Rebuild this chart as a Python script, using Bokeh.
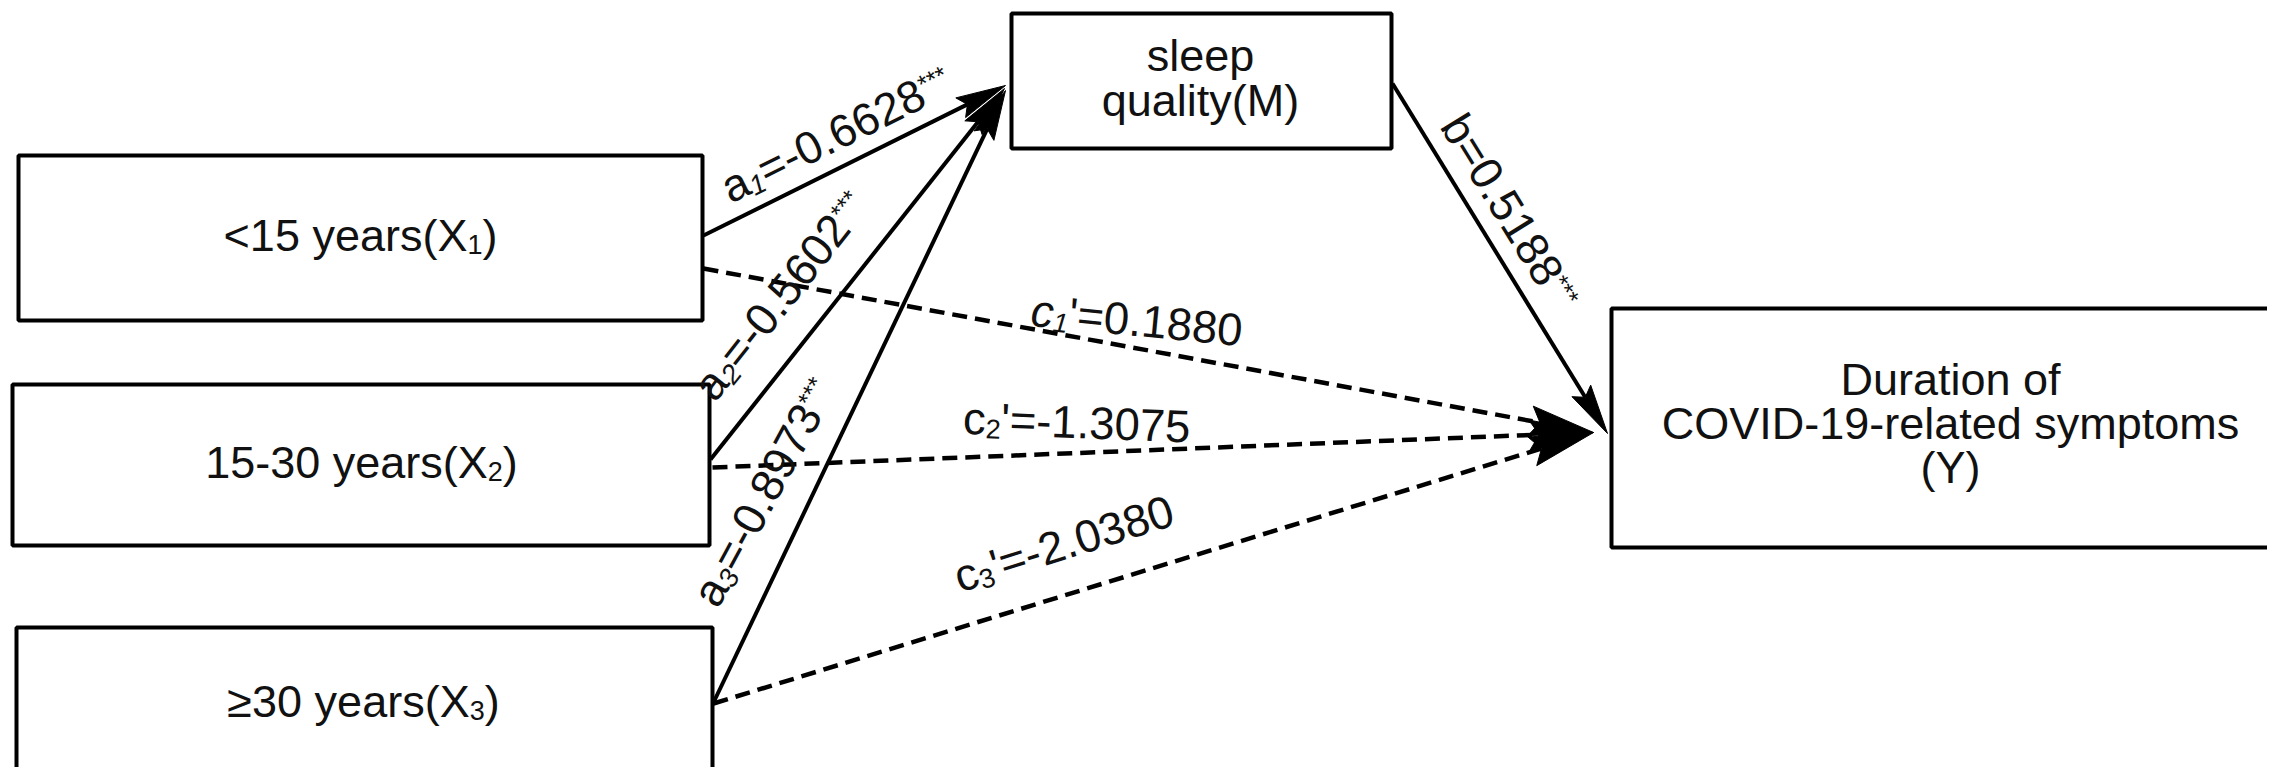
import math
from bokeh.plotting import figure
from bokeh.models import Range1d, ColumnDataSource
from bokeh.embed import file_html
from bokeh.resources import INLINE
from bokeh.core.properties import value

IMG_W, IMG_H = 2283, 783
FONT = "Liberation Sans"

# ---------------- data ----------------
x_names = ["<15 years(X", "15-30 years(X", "\u226530 years(X"]
x_subs = ["1", "2", "3"]
mediator_lines = ["sleep", "quality(M)"]
outcome_lines = ["Duration of", "COVID-19-related symptoms", "(Y)"]
a_coef = [-0.6628, -0.5602, -0.8973]
a_sig = ["***", "***", "***"]
b_coef = [0.5188]
b_sig = ["***"]
c_coef = [0.1880, -1.3075, -2.0380]
c_sig = ["", "", ""]

# ---------------- layout (screen px) ----------------
x_boxes = [(18, 702, 155, 320), (12, 709, 384, 545), (16, 712, 627, 800)]
m_box = (1011, 1391, 13, 148)
y_box = (1611, 2300, 308, 547)
x_text_pos = [(360, 252), (361, 479), (363, 718)]
m_text_pos = [(1200, 72), (1200, 117)]
y_text_pos = [(1950, 396), (1950, 440), (1950, 484)]

a_start = [(703, 235), (710, 459), (713, 702)]
a_tip = [(1005, 85), (1004, 88), (1005, 90)]
b_start, b_tip = (1392, 83), (1607, 433)
c_start = [(703, 268), (712, 467), (713, 703)]
c_tip = (1593, 432)

a_lab = [((731, 205), 26.4), ((716, 404), 51.6), ((719, 610), 61.5)]
b_lab = [((1437, 127), -58.4)]
c_lab = [((1029, 327), -5.5), ((962, 435), -2.2), ((960, 594), 17.5)]
c_style = ["italic", "normal", "normal"]

BOX_FS = 45
LAB_FS = 45.5
BASE_FIX = 0.38   # em: lift applied so the alphabetic baseline lands where intended

AW = {' ': .278, "'": .191, '(': .333, ')': .333, '*': .389, '-': .333, '.': .278,
      '<': .584, '=': .584, '\u2265': .549, 'C': .722, 'D': .722, 'I': .278, 'M': .833,
      'O': .778, 'V': .667, 'X': .667, 'Y': .667, 'a': .556, 'b': .556, 'c': .5, 'd': .556,
      'e': .556, 'f': .278, 'i': .222, 'l': .222, 'm': .833, 'n': .556, 'o': .556,
      'p': .556, 'q': .556, 'r': .333, 's': .5, 't': .278, 'u': .556, 'y': .5}


def tw(s):
    return sum(AW.get(ch, .556) for ch in s)


def fy(y):
    return IMG_H - y


p = figure(width=IMG_W - 16, height=IMG_H - 16, output_backend="svg", toolbar_location=None,
           x_range=Range1d(0, IMG_W - 16), y_range=Range1d(16, IMG_H),
           x_axis_type=None, y_axis_type=None, min_border=0)
p.grid.visible = False
p.outline_line_color = None
p.background_fill_color = "white"
p.border_fill_color = "white"

# ---------------- arrows ----------------
def unit(a, b):
    dx, dy = b[0] - a[0], b[1] - a[1]
    n = math.hypot(dx, dy)
    return dx / n, dy / n


def head(tail, tip, L, hw):
    ux, uy = unit(tail, tip)
    bx, by = tip[0] - ux * L, tip[1] - uy * L
    px, py = -uy, ux
    nx, ny = tip[0] - ux * L * 0.85, tip[1] - uy * L * 0.85
    xs = [tip[0], bx + px * hw, nx, bx - px * hw]
    ys = [tip[1], by + py * hw, ny, by - py * hw]
    return xs, [fy(v) for v in ys], (nx, ny)


solid = dict(x0=[], y0=[], x1=[], y1=[])
dashed = dict(x0=[], y0=[], x1=[], y1=[])
hx, hy = [], []
for s, t in list(zip(a_start, a_tip)) + [(b_start, b_tip)]:
    xs, ys, base = head(s, t, 50, 11)
    hx.append(xs); hy.append(ys)
    solid["x0"].append(s[0]); solid["y0"].append(fy(s[1]))
    solid["x1"].append(base[0]); solid["y1"].append(fy(base[1]))
for s in c_start:
    xs, ys, base = head(s, c_tip, 64, 15)
    hx.append(xs); hy.append(ys)
    dashed["x0"].append(s[0]); dashed["y0"].append(fy(s[1]))
    dashed["x1"].append(base[0]); dashed["y1"].append(fy(base[1]))

p.segment("x0", "y0", "x1", "y1", source=ColumnDataSource(solid), line_color="black", line_width=4)
p.segment("x0", "y0", "x1", "y1", source=ColumnDataSource(dashed), line_color="black",
          line_width=4.5, line_dash="15 8")
p.patches(hx, hy, fill_color="black", line_color="black", line_width=1)

# ---------------- boxes ----------------
boxes = x_boxes + [m_box, y_box]
p.quad(left=[b[0] for b in boxes], right=[b[1] for b in boxes],
       top=[fy(b[2]) for b in boxes], bottom=[fy(b[3]) for b in boxes],
       fill_color="white", line_color="black", line_width=4)

# ---------------- texts ----------------
T = dict(x=[], y=[], text=[], angle=[], size=[], style=[])


def run(start, ang_deg, fs, pieces):
    a = math.radians(ang_deg)
    ax, ay = math.cos(a), math.sin(a)
    ux, uy = -math.sin(a), math.cos(a)
    x0, y0 = start[0], fy(start[1])
    adv = 0.0
    for txt, sc, sh, st in pieces:
        lift = sh * fs + BASE_FIX * fs * sc
        T["x"].append(x0 + ax * adv + ux * lift)
        T["y"].append(y0 + ay * adv + uy * lift)
        T["text"].append(txt)
        T["angle"].append(a)
        T["size"].append("%.1fpx" % (fs * sc))
        T["style"].append(st)
        adv += tw(txt) * fs * sc


def centered(center, fs, pieces):
    total = sum(tw(t) * sc * fs for t, sc, sh, st in pieces)
    run((center[0] - total / 2, center[1]), 0, fs, pieces)


for name, sub, pos in zip(x_names, x_subs, x_text_pos):
    centered(pos, BOX_FS, [(name, 1, 0, "normal"), (sub, 0.6, -0.04, "normal"), (")", 1, 0, "normal")])
for line, pos in zip(mediator_lines, m_text_pos):
    centered(pos, BOX_FS, [(line, 1, 0, "normal")])
for line, pos in zip(outcome_lines, y_text_pos):
    centered(pos, BOX_FS, [(line, 1, 0, "normal")])

SUB, SUBSH = 0.6, -0.06
SUP, SUPSH = 0.55, 0.32
for i, (coef, sig, (st, ang)) in enumerate(zip(a_coef, a_sig, a_lab)):
    run(st, ang, LAB_FS, [("a", 1, 0, "normal"), (str(i + 1), SUB, SUBSH, "italic"),
                          ("=%.4f" % coef, 1, 0, "normal"), (sig, SUP, SUPSH, "normal")])
for coef, sig, (st, ang) in zip(b_coef, b_sig, b_lab):
    run(st, ang, LAB_FS, [("b=%.4f" % coef, 1, 0, "normal"), (sig, SUP, SUPSH, "normal")])
for i, (coef, sig, (st, ang), sty) in enumerate(zip(c_coef, c_sig, c_lab, c_style)):
    run(st, ang, LAB_FS, [("c", 1, 0, sty), (str(i + 1), SUB, SUBSH, sty),
                          ("'=%.4f" % coef, 1, 0, "normal"), (sig, SUP, SUPSH, "normal")])

p.text("x", "y", text="text", angle="angle", text_font_size="size", text_font_style="style",
       source=ColumnDataSource(T), text_font=value(FONT), text_color="#111111",
       text_align="left", text_baseline="alphabetic")

open("out.html", "w").write(file_html(p, INLINE))
